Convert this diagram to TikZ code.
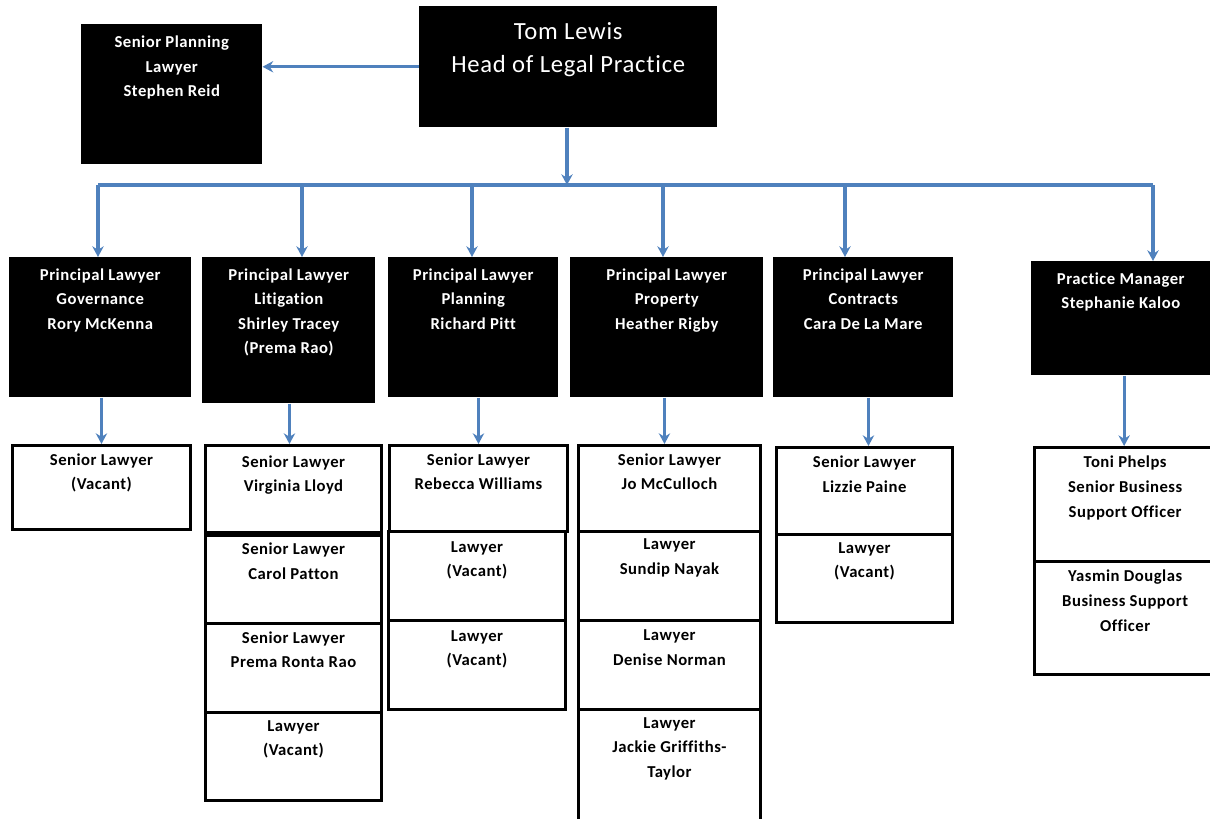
\documentclass[tikz,border=0pt]{standalone}
\usepackage{fontspec}
\setmainfont{Carlito}[LetterSpace=3,Ligatures={NoCommon}]
\usetikzlibrary{arrows.meta}
\definecolor{linkblue}{RGB}{79,129,189}
\begin{document}
\begin{tikzpicture}[x=0.75pt,y=-0.75pt,
  blk/.style={fill=black,draw=none,anchor=north west,inner sep=0pt},
  wbox/.style={fill=white,draw=black,line width=2.2pt,anchor=north west,inner sep=0pt},
  txt/.style={anchor=north,align=center,inner sep=0pt,font=\fontsize{12.5}{18.4}\selectfont\bfseries},
  wtxt/.style={txt,text=white},
  bigtxt/.style={anchor=north,align=center,inner sep=0pt,text=white,font=\fontsize{18.5}{24.8}\selectfont},
  link/.style={draw=linkblue,line width=2.3pt},
  arr/.style={link,-{Stealth[length=8pt,width=8.5pt]}}
]
\useasboundingbox (0,0) rectangle (1210,818);
\clip (0,0) rectangle (1210,818);
% top
\node[blk,minimum width=223.5pt,minimum height=90.75pt] (tom) at (419,6) {};
\node[bigtxt,yshift=-12.5pt] (tomt) at (tom.north) {Tom Lewis\\Head of Legal Practice};
\node[blk,minimum width=135.75pt,minimum height=105pt] (spl) at (81,24) {};
\node[wtxt,yshift=-8.8pt] (splt) at (spl.north) {Senior Planning\\Lawyer\\Stephen Reid};
% principal row
\node[blk,minimum width=136.5pt,minimum height=105pt] (p1) at (9,257) {};
\node[blk,minimum width=129.75pt,minimum height=109.5pt] (p2) at (202,257) {};
\node[blk,minimum width=127.5pt,minimum height=105pt] (p3) at (388,257) {};
\node[blk,minimum width=144.75pt,minimum height=105pt] (p4) at (570,257) {};
\node[blk,minimum width=135pt,minimum height=105pt] (p5) at (773,257) {};
\node[blk,minimum width=134.25pt,minimum height=85.5pt] (p6) at (1031,261) {};
\node[wtxt,yshift=-8.3pt] (p1t) at (p1.north) {Principal Lawyer\\Governance\\Rory McKenna};
\node[wtxt,yshift=-8.3pt] (p2t) at (p2.north) {Principal Lawyer\\Litigation\\Shirley Tracey\\(Prema Rao)};
\node[wtxt,yshift=-8.3pt] (p3t) at (p3.north) {Principal Lawyer\\Planning\\Richard Pitt};
\node[wtxt,yshift=-8.3pt] (p4t) at (p4.north) {Principal Lawyer\\Property\\Heather Rigby};
\node[wtxt,yshift=-8.3pt] (p5t) at (p5.north) {Principal Lawyer\\Contracts\\Cara De La Mare};
\node[wtxt,yshift=-8.3pt] (p6t) at (p6.north) {Practice Manager\\Stephanie Kaloo};
% column 1
\node[wbox,minimum width=133.5pt,minimum height=63pt] (s1) at (11,444) {};
\node[txt,yshift=-7pt] (s1t) at (s1.north) {Senior Lawyer\\(Vacant)};
% column 2
\node[wbox,minimum width=132pt,minimum height=65pt] (c2a) at (204,444) {};
\node[wbox,minimum width=132pt,minimum height=66pt] (c2b) at (204,534) {};
\node[wbox,minimum width=132pt,minimum height=66.75pt] (c2c) at (204,622) {};
\node[wbox,minimum width=132pt,minimum height=66pt] (c2d) at (204,711) {};
\draw[line width=4pt] (c2a.south west) -- (c2a.south east);
\node[txt,yshift=-8.5pt] (c2at) at (c2a.north) {Senior Lawyer\\Virginia Lloyd};
\node[txt,yshift=-6.5pt] (c2bt) at (c2b.north) {Senior Lawyer\\Carol Patton};
\node[txt,yshift=-7pt] (c2ct) at (c2c.north) {Senior Lawyer\\Prema Ronta Rao};
\node[txt,yshift=-7pt] (c2dt) at (c2d.north) {Lawyer\\(Vacant)};
% column 3
\node[wbox,minimum width=133.5pt,minimum height=64.5pt] (c3a) at (388,444) {};
\node[wbox,minimum width=132.75pt,minimum height=66.75pt] (c3b) at (387,530) {};
\node[wbox,minimum width=132.75pt,minimum height=66.75pt] (c3c) at (387,619) {};
\node[txt,yshift=-7pt] (c3at) at (c3a.north) {Senior Lawyer\\Rebecca Williams};
\node[txt,yshift=-8.5pt] (c3bt) at (c3b.north) {Lawyer\\(Vacant)};
\node[txt,yshift=-8.5pt] (c3ct) at (c3c.north) {Lawyer\\(Vacant)};
% column 4
\node[wbox,minimum width=136.5pt,minimum height=64.5pt] (c4a) at (577,444) {};
\node[wbox,minimum width=136.5pt,minimum height=66.75pt] (c4b) at (577,530) {};
\node[wbox,minimum width=136.5pt,minimum height=66.75pt] (c4c) at (577,619) {};
\node[wbox,minimum width=136.5pt,minimum height=95pt] (c4d) at (577,708) {};
\node[txt,yshift=-7pt] (c4at) at (c4a.north) {Senior Lawyer\\Jo McCulloch};
\node[txt,yshift=-6.5pt] (c4bt) at (c4b.north) {Lawyer\\Sundip Nayak};
\node[txt,yshift=-8pt] (c4ct) at (c4c.north) {Lawyer\\Denise Norman};
\node[txt,yshift=-7pt] (c4dt) at (c4d.north) {Lawyer\\Jackie Griffiths-\\Taylor};
% column 5
\node[wbox,minimum width=132pt,minimum height=65.25pt] (c5a) at (775,446) {};
\node[wbox,minimum width=132pt,minimum height=66pt] (c5b) at (775,533) {};
\node[txt,yshift=-7.5pt] (c5at) at (c5a.north) {Senior Lawyer\\Lizzie Paine};
\node[txt,yshift=-7pt] (c5bt) at (c5b.north) {Lawyer\\(Vacant)};
% column 6
\node[wbox,minimum width=136pt,minimum height=85.5pt] (c6a) at (1033,446) {};
\node[wbox,minimum width=136pt,minimum height=84.75pt] (c6b) at (1033,560) {};
\node[txt,yshift=-7.5pt] (c6at) at (c6a.north) {Toni Phelps\\Senior Business\\Support Officer};
\node[txt,yshift=-7.5pt] (c6bt) at (c6b.north) {Yasmin Douglas\\Business Support\\Officer};
% connectors
\draw[arr] (tom.west) -- (tom.west -| spl.east);
\coordinate (bm) at (567,185);
\coordinate (b1) at (98,185);
\coordinate (b2) at (302,185);
\coordinate (b3) at (472,185);
\coordinate (b4) at (663,185);
\coordinate (b5) at (845,185);
\coordinate (b6) at (1153,185);
\draw[link] (b1) -- (b6);
\draw[arr] (tom.south -| bm) -- (bm);
\draw[arr] (b1) -- (b1 |- p1.north);
\draw[arr] (b2) -- (b2 |- p2.north);
\draw[arr] (b3) -- (b3 |- p3.north);
\draw[arr] (b4) -- (b4 |- p4.north);
\draw[arr] (b5) -- (b5 |- p5.north);
\draw[arr] (b6) -- (b6 |- p6.north);
\draw[arr] (p1.south -| s1.north) -- (s1.north);
\draw[arr] (p2.south -| c2a.north) ++(-4,0) coordinate (d2) -- (d2 |- c2a.north);
\draw[arr] (p3.south -| c3a.north) -- (c3a.north);
\draw[arr] (p4.south -| c4a.north) ++(-5,0) coordinate (d4) -- (d4 |- c4a.north);
\draw[arr] (p5.south -| c5a.north) ++(4,0) coordinate (d5) -- (d5 |- c5a.north);
\draw[arr] (p6.south -| c6a.north) ++(-1,0) coordinate (d6) -- (d6 |- c6a.north);
\end{tikzpicture}
\end{document}
